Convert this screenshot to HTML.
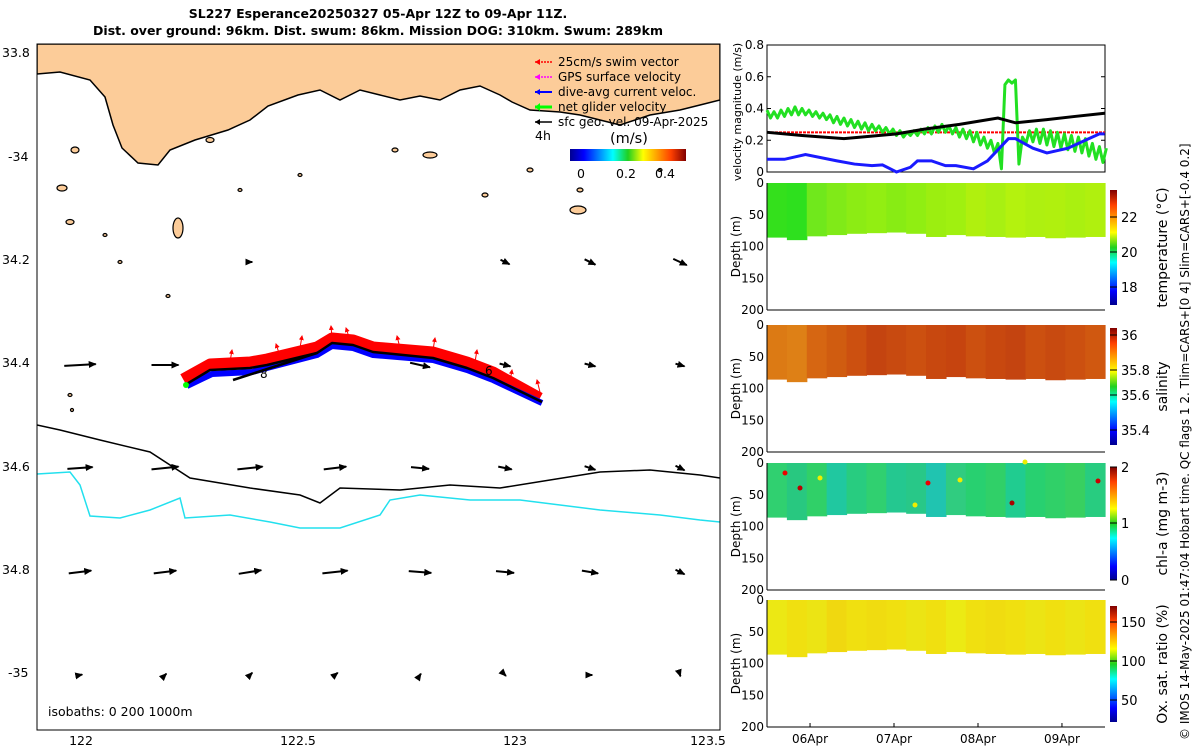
<!DOCTYPE html>
<html><head><meta charset="utf-8">
<style>
html,body{margin:0;padding:0;background:#fff;}
svg{display:block;font-family:"DejaVu Sans","Liberation Sans",sans-serif;}
</style></head>
<body>
<svg id="c" width="1200" height="750" viewBox="0 0 1200 750" xmlns="http://www.w3.org/2000/svg">
<defs>
<linearGradient id="jetH" x1="0" x2="1" y1="0" y2="0">
<stop offset="0" stop-color="#00008f"/><stop offset="0.12" stop-color="#0000ff"/><stop offset="0.37" stop-color="#00ffff"/><stop offset="0.5" stop-color="#20d020"/><stop offset="0.63" stop-color="#ffff00"/><stop offset="0.87" stop-color="#ff4000"/><stop offset="1" stop-color="#800000"/>
</linearGradient>
<linearGradient id="jetV" x1="0" x2="0" y1="1" y2="0">
<stop offset="0" stop-color="#00008f"/><stop offset="0.12" stop-color="#0000ff"/><stop offset="0.37" stop-color="#00ffff"/><stop offset="0.5" stop-color="#20d020"/><stop offset="0.63" stop-color="#ffff00"/><stop offset="0.87" stop-color="#ff4000"/><stop offset="1" stop-color="#800000"/>
</linearGradient>
<marker id="ah" markerUnits="userSpaceOnUse" markerWidth="8" markerHeight="7" refX="7" refY="3.5" orient="auto"><path d="M0,0 L8,3.5 L0,7 z" fill="#000"/></marker>
<marker id="ahr" markerUnits="userSpaceOnUse" markerWidth="5" markerHeight="5" refX="4" refY="2.5" orient="auto"><path d="M0,0 L5,2.5 L0,5 z" fill="#f00"/></marker>
</defs>

<text x="378" y="18" text-anchor="middle" font-size="12.5" font-weight="bold">SL227 Esperance20250327 05-Apr 12Z to 09-Apr 11Z.</text>
<text x="378" y="35" text-anchor="middle" font-size="12.5" font-weight="bold">Dist. over ground: 96km. Dist. swum: 86km. Mission DOG: 310km. Swum: 289km</text>

<g id="map">
<clipPath id="mapclip"><rect x="37" y="44" width="683" height="686"/></clipPath>
<g clip-path="url(#mapclip)">
<path fill="#fccc99" stroke="#000" stroke-width="1.5" d="M37,44 L37,74 L60,72 L90,80 L105,97 L113,125 L122,148 L138,163 L158,165 L170,150 L195,140 L228,130 L250,120 L268,106 L298,95 L320,90 L340,100 L360,90 L380,95 L400,100 L420,96 L440,100 L460,90 L480,86 L500,95 L512,102 L530,110 L560,112 L580,115 L600,120 L620,125 L650,115 L680,110 L700,105 L720,100 L720,44 Z"/>
<g id="islands" fill="#fccc99" stroke="#000" stroke-width="1.2">
<ellipse cx="178" cy="228" rx="5" ry="10"/><ellipse cx="62" cy="188" rx="5" ry="3"/><ellipse cx="75" cy="150" rx="4" ry="3"/><ellipse cx="70" cy="222" rx="4" ry="2.5"/>
<ellipse cx="578" cy="210" rx="8" ry="4"/><ellipse cx="580" cy="190" rx="3" ry="2"/><ellipse cx="430" cy="155" rx="7" ry="3"/><ellipse cx="485" cy="195" rx="3" ry="2"/>
<ellipse cx="395" cy="150" rx="3" ry="2"/><ellipse cx="210" cy="140" rx="4" ry="2.5"/><ellipse cx="300" cy="175" rx="2" ry="1.5"/><ellipse cx="530" cy="170" rx="3" ry="2"/>
<ellipse cx="120" cy="262" rx="2" ry="1.5"/><ellipse cx="105" cy="235" rx="2" ry="1.5"/><ellipse cx="660" cy="170" rx="2" ry="1.5"/><ellipse cx="240" cy="190" rx="2" ry="1.5"/>
<ellipse cx="70" cy="395" rx="2" ry="1.5"/><ellipse cx="72" cy="410" rx="1.5" ry="1.5"/><ellipse cx="168" cy="296" rx="2" ry="1.5"/>
</g>
<polyline id="iso200" fill="none" stroke="#000" stroke-width="1.5" points="37,425 60,430 100,440 150,452 190,478 250,488 300,495 320,503 340,488 400,490 450,485 500,488 550,480 600,472 650,470 700,475 720,478"/>
<polyline id="iso1000" fill="none" stroke="#22e0ee" stroke-width="1.5" points="37,474 70,472 80,485 90,516 120,518 150,510 180,498 185,518 230,515 270,522 300,528 340,528 380,515 390,500 420,495 470,500 520,500 560,505 600,510 660,515 700,520 720,522"/>
<g id="arrows"></g>
<g id="track">
<polyline fill="none" stroke="#f00" stroke-width="11" stroke-linejoin="round" points="183,379 210,364 250,362 267,359 317,347 332,338 353,340 373,347 433,352 467,362 493,372 540,398"/>
<polyline fill="none" stroke="#00f" stroke-width="6" stroke-linejoin="round" points="187,386 212,374 252,372 267,368 317,355 332,346 353,348 373,355 433,360 467,370 493,380 542,403"/>
<polyline fill="none" stroke="#000" stroke-width="2.5" stroke-linejoin="round" points="185,385 210,370 250,368 267,365 317,353 332,343 353,345 373,352 433,358 467,368 493,378 542,402"/>
<polyline fill="none" stroke="#000" stroke-width="2.5" points="233,380 317,353"/>
<circle cx="186" cy="385" r="3" fill="#0f0"/>
<text x="485" y="375" font-size="12">6</text><text x="260" y="378" font-size="12">8</text>
</g>
</g>
<rect x="37" y="44" width="683" height="686" fill="none" stroke="#000" stroke-width="1"/>
<g font-size="12.5" fill="#000">
<text x="2" y="57">33.8</text><text x="8" y="161">-34</text><text x="2" y="264">34.2</text><text x="2" y="367">34.4</text><text x="2" y="471">34.6</text><text x="2" y="574">34.8</text><text x="8" y="677">-35</text>
</g>
<g font-size="12.5" text-anchor="middle">
<text x="81" y="745">122</text><text x="298" y="745">122.5</text><text x="515" y="745">123</text><text x="708" y="745">123.5</text>
</g>
<text x="48" y="716" font-size="12.5">isobaths: 0   200   1000m</text>
<g id="legend" font-size="12">
<line x1="535" y1="62" x2="552" y2="62" stroke="#f00" stroke-width="1.5" stroke-dasharray="2,1"/><path d="M535,62 l5,-3 v6z" fill="#f00"/>
<text x="558" y="66">25cm/s swim vector</text>
<line x1="535" y1="77" x2="552" y2="77" stroke="#f0f" stroke-width="1.5" stroke-dasharray="2,1"/><path d="M535,77 l5,-3 v6z" fill="#f0f"/>
<text x="558" y="81">GPS surface velocity</text>
<line x1="535" y1="92" x2="552" y2="92" stroke="#00f" stroke-width="2"/><path d="M535,92 l5,-3 v6z" fill="#00f"/>
<text x="558" y="96">dive-avg current veloc.</text>
<line x1="535" y1="107" x2="552" y2="107" stroke="#0f0" stroke-width="3"/><path d="M535,107 l5,-4 v8z" fill="#0f0"/>
<text x="558" y="111">net glider velocity</text>
<line x1="535" y1="122" x2="552" y2="122" stroke="#000" stroke-width="1.5"/><path d="M535,122 l5,-3 v6z" fill="#000"/>
<text x="558" y="126">sfc geo. vel. 09-Apr-2025</text>
<text x="535" y="140" font-size="12.5">4h</text>
<text x="610" y="143" font-size="14.5">(m/s)</text>
<rect x="570" y="149" width="116" height="12" fill="url(#jetH)"/>
<text x="581" y="178" text-anchor="middle" font-size="12.5">0</text><text x="626" y="178" text-anchor="middle" font-size="12.5">0.2</text><text x="665" y="178" text-anchor="middle" font-size="12.5">0.4</text>
</g>
</g>

<g id="vel"></g>
<g id="sections"></g>

<text transform="translate(1189,740) rotate(-90)" font-size="12">© IMOS 14-May-2025 01:47:04 Hobart time. QC flags 1  2. Tlim=CARS+[0 4] Slim=CARS+[-0.4 0.2]</text>
</svg>
<script>
const NS="http://www.w3.org/2000/svg";
function mk(tag,attrs,parent){const e=document.createElementNS(NS,tag);for(const k in attrs)e.setAttribute(k,attrs[k]);parent.appendChild(e);return e;}

// ---- data ----
const greenSpeed=[0.39,0.34,0.38,0.34,0.39,0.35,0.40,0.36,0.41,0.36,0.40,0.36,0.39,0.35,0.38,0.34,0.37,0.33,0.36,0.31,0.35,0.30,0.34,0.29,0.33,0.28,0.32,0.27,0.31,0.26,0.30,0.26,0.29,0.25,0.28,0.24,0.27,0.23,0.26,0.22,0.25,0.23,0.26,0.23,0.27,0.24,0.28,0.24,0.29,0.25,0.30,0.25,0.29,0.24,0.28,0.22,0.27,0.21,0.26,0.19,0.25,0.17,0.22,0.15,0.20,0.12,0.18,0.02,0.55,0.58,0.56,0.58,0.05,0.22,0.18,0.26,0.19,0.27,0.18,0.27,0.17,0.26,0.16,0.25,0.15,0.24,0.14,0.23,0.13,0.22,0.12,0.21,0.10,0.18,0.08,0.16,0.06,0.15];
const blackHours=[0,10,22,37,45,55,66,71,80,88,96.5];
const blackSpeed=[0.25,0.23,0.21,0.24,0.27,0.30,0.34,0.31,0.33,0.35,0.37];
const blueHours=[0,5,11,20,25,30,33,37,41,43,47,51,54,59,63,69,71,76,80,86,92,95,96.5];
const blueSpeed=[0.08,0.08,0.11,0.07,0.05,0.04,0.045,0.0,0.03,0.07,0.07,0.04,0.04,0.02,0.07,0.21,0.21,0.15,0.12,0.15,0.21,0.24,0.24];
const swimSpeed=0.25;
const dayLabels=["06Apr","07Apr","08Apr","09Apr"];
const dayHours=[12.3,36.3,60.3,84.3];
const velTicks=[0,0.2,0.4,0.6,0.8];
const bottomDepth=[86,90,84,82,80,79,78,80,85,82,84,85,86,85,87,86,85];
const tempCols=["#34e01c","#2ee01e","#70e81c","#80ea18","#8cec14","#92ee12","#88ec14","#90ee12","#9cee10","#a0f010","#b0f00e","#a8f012","#b4f20e","#aef010","#b0f00e","#aaf010","#b0f00e"];
const salCols=["#dc7a14","#de8016","#d66612","#d05c10","#cc5010","#c44410","#c84a10","#cc5010","#c8480f","#c6440f","#cc5010","#c8480f","#c44410","#cc5010","#c84a10","#cc5010","#d05810"];
const chlCols=["#30d070","#28c880","#30d068","#20c8a0","#28cc80","#30d070","#24c890","#28c888","#20c4b0","#30cc80","#28d070","#30d068","#20cc90","#28d070","#30d068","#38d060","#28cc80"];
const oxyCols=["#ece814","#f0e010","#ece414","#f0d810","#f0e010","#f0dc10","#f0e010","#ece414","#f0e010","#ecea14","#f0e010","#f0dc10","#f0e010","#ece414","#f0e010","#ece414","#f0e010"];
const arrowU=[[0,0,0.05,0,0,0.1,0.12,0.15],[0.35,0.3,0.25,0,0.22,0.12,0.12,0.1],[0.28,0.3,0.28,0.25,0.2,0.15,0.12,0.1],[0.25,0.25,0.25,0.28,0.25,0.2,0.18,0.1],[0.05,0.03,0.05,0.06,0.02,0.02,0.05,0.01]];
const arrowV=[[0,0,0,0,0,-0.05,-0.06,-0.07],[0.02,0,-0.02,0,-0.05,-0.03,-0.03,-0.03],[0.02,0.03,0.03,0.03,-0.02,-0.03,-0.04,-0.05],[0.03,0.03,0.04,0.03,-0.02,-0.02,-0.03,-0.05],[0.01,0.03,0.05,0.05,0.03,-0.02,0,-0.03]];
const arrowCols=[80,165,250,335,420,505,590,680];
const arrowRows=[262,365,468,572,675];

// ---- map arrows ----
const ag=document.getElementById('arrows');
const aScale=90;
arrowRows.forEach((ry,i)=>arrowCols.forEach((cx,j)=>{
  const u=arrowU[i][j],v=arrowV[i][j];
  if(u===0&&v===0)return;
  const a=mk('line',{x1:cx-u*aScale/2,y1:ry+v*aScale/2,x2:cx+u*aScale/2,y2:ry-v*aScale/2,stroke:'#000','stroke-width':2,'marker-end':'url(#ah)'},ag);
  
  
}));
const tr=document.getElementById('track');
[[332,338],[350,340],[400,348],[433,350],[475,362],[510,382],[540,392],[280,356],[300,348],[230,362]].forEach(p=>{
  const a=mk('line',{x1:p[0],y1:p[1],x2:p[0]-4+Math.abs(p[0]%7),y2:p[1]-12,stroke:'#f00','stroke-width':1,'marker-end':'url(#ahr)'},tr);
  
  
});

// ---- velocity panel ----
const X0=767,X1=1105,H0=0,H1=96.6;
const xs=h=>X0+(h-H0)/(H1-H0)*(X1-X0);
const vY0=172,vY1=45;
const vy=v=>vY0-v/0.8*(vY0-vY1);
const vel=document.getElementById('vel');
mk('rect',{x:X0,y:vY1,width:X1-X0,height:vY0-vY1,fill:'#fff',stroke:'#000','stroke-width':1},vel);
velTicks.forEach(t=>{
  const tx=mk('text',{x:X0-3,y:vy(t)+4,'text-anchor':'end','font-size':12},vel);tx.textContent=t;
  
  
  mk('line',{x1:X0,x2:X0+4,y1:vy(t),y2:vy(t),stroke:'#000'},vel);
  mk('line',{x1:X1,x2:X1-4,y1:vy(t),y2:vy(t),stroke:'#000'},vel);
});
const vl=mk('text',{transform:'translate(741,112) rotate(-90)','text-anchor':'middle','font-size':11},vel);vl.textContent='velocity magnitude (m/s)';


const sw=mk('line',{x1:X0,x2:X1,y1:vy(swimSpeed),y2:vy(swimSpeed),stroke:'#f00','stroke-width':2,'stroke-dasharray':'3,1'},vel);


const gp=mk('polyline',{fill:'none',stroke:'#22e022','stroke-width':3,'stroke-linejoin':'round',points:greenSpeed.map((v,i)=>xs(i)+','+vy(v)).join(' ')},vel);


const bp=mk('polyline',{fill:'none',stroke:'#000','stroke-width':3,points:blackSpeed.map((v,i)=>xs(blackHours[i])+','+vy(v)).join(' ')},vel);


const blp=mk('polyline',{fill:'none',stroke:'#1a1aff','stroke-width':3,points:blueSpeed.map((v,i)=>xs(blueHours[i])+','+vy(v)).join(' ')},vel);



// ---- sections ----
const sec=document.getElementById('sections');
const panels=[
 {top:183,cols:tempCols,label:'temperature (°C)',cb:[190,305],ticks:[['22',217],['20',252],['18',287]],name:'temperature'},
 {top:325,cols:salCols,label:'salinity',cb:[328,445],ticks:[['36',335],['35.8',370],['35.6',395],['35.4',430]],name:'salinity'},
 {top:463,cols:chlCols,label:'chl-a (mg m-3)',cb:[467,580],ticks:[['2',467],['1',523],['0',580]],name:'chl-a'},
 {top:600,cols:oxyCols,label:'Ox. sat. ratio (%)',cb:[606,722],ticks:[['150',622],['100',661],['50',700]],name:'oxygen'}
];
const PH=127;
panels.forEach((p,pi)=>{
  const g=mk('g',{},sec);
  
  
  const dy=d=>p.top+d/200*PH;
  const n=p.cols.length,w=(X1-X0)/n;
  p.cols.forEach((c,i)=>{
    const r=mk('rect',{x:X0+i*w,y:dy(0),width:w+0.6,height:dy(bottomDepth[i])-dy(0),fill:c},g);
    
    
  });
  if(pi===2){[[785,473,'#e00'],[800,488,'#b00'],[820,478,'#ee0'],[928,483,'#e00'],[960,480,'#ee0'],[1012,503,'#a00'],[1025,462,'#ee0'],[915,505,'#ee0'],[1098,481,'#c00']].forEach(q=>mk('circle',{cx:q[0],cy:q[1],r:2.5,fill:q[2]},g));}
  mk('line',{x1:X0,y1:p.top,x2:X0,y2:p.top+PH,stroke:'#000'},g);
  mk('line',{x1:X0,y1:p.top+PH,x2:X1,y2:p.top+PH,stroke:'#000'},g);
  [0,50,100,150,200].forEach(d=>{
    const t=mk('text',{x:X0-3,y:dy(d)+4,'text-anchor':'end','font-size':12},g);t.textContent=d;
    
    
  });
  const yl=mk('text',{transform:`translate(740,${p.top+PH/2}) rotate(-90)`,'text-anchor':'middle','font-size':12},g);yl.textContent='Depth (m)';
  
  
  const cb=mk('rect',{x:1110,y:p.cb[0],width:7,height:p.cb[1]-p.cb[0],fill:'url(#jetV)'},g);
  
  
  p.ticks.forEach(t=>{
    mk('line',{x1:1110,x2:1117,y1:t[1],y2:t[1],stroke:'#000'},g);
    const tx=mk('text',{x:1121,y:t[1]+5,'font-size':13},g);tx.textContent=t[0];
    
    
  });
  const cl=mk('text',{transform:`translate(1167,${(p.cb[0]+p.cb[1])/2}) rotate(-90)`,'text-anchor':'middle','font-size':14},g);cl.textContent=p.label;
  
  
});
dayLabels.forEach((d,i)=>{
  const x=xs(dayHours[i]);
  mk('line',{x1:x,x2:x,y1:727,y2:723,stroke:'#000'},sec);
  const t=mk('text',{x:x,y:743,'text-anchor':'middle','font-size':12},sec);t.textContent=d;
  
  
});
</script>
</body></html>
